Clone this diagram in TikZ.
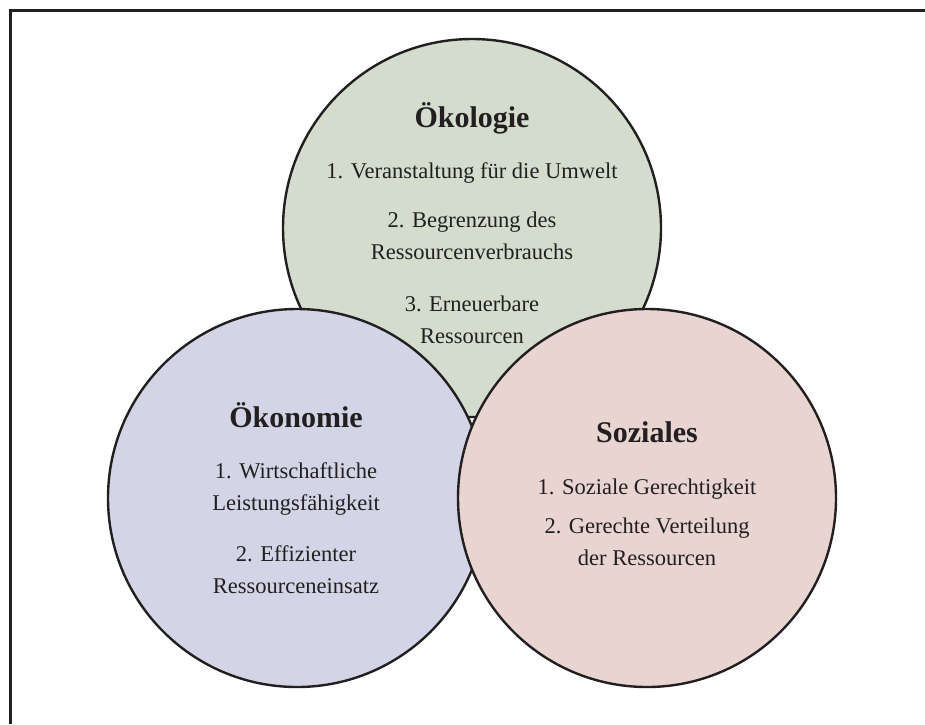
\documentclass[tikz,border=0pt]{standalone}
\usepackage{fontspec}
\setmainfont{Liberation Serif}
\usepackage{tikz}
\usetikzlibrary{positioning}
\definecolor{oekogreen}{RGB}{211,220,205}
\definecolor{oekoblue}{RGB}{211,212,230}
\definecolor{sozpink}{RGB}{232,212,208}
\definecolor{inkdark}{RGB}{35,31,32}

\begin{document}
\begin{tikzpicture}[x=1pt, y=-1pt,
    pillar/.style={circle, draw=inkdark, line width=2.4pt, minimum size=378pt, inner sep=0pt},
    headline/.style={anchor=base, text=inkdark, font=\fontsize{30}{34}\selectfont\bfseries},
    item/.style={anchor=base, align=center, text=inkdark, font=\fontsize{22.5}{31.5}\selectfont}]
    \useasboundingbox (0,0) rectangle (925,724);
    % frame, only top and left edge inside the page
    \draw[inkdark, line width=3pt] (925,10.5) -- (10.5,10.5) -- (10.5,724);
    % Oekologie (multi-line items sit on their last baseline)
    \node[pillar, fill=oekogreen] (oekologie) at (472,228) {};
    \node[headline] (oekologieTitle) at (472,127) {Ökologie};
    \node[item] (oekologieA) at (472,178) {1. Veranstaltung für die Umwelt};
    \node[item] (oekologieB) at (472,259) {2. Begrenzung des\\Ressourcenverbrauchs};
    \node[item] (oekologieC) at (472,343) {3. Erneuerbare\\Ressourcen};
    % Oekonomie
    \node[pillar, fill=oekoblue] (oekonomie) at (297,498) {};
    \node[headline] (oekonomieTitle) at (296,427) {Ökonomie};
    \node[item] (oekonomieA) at (296,510) {1. Wirtschaftliche\\Leistungsfähigkeit};
    \node[item] (oekonomieB) at (296,593) {2. Effizienter\\Ressourceneinsatz};
    % Soziales
    \node[pillar, fill=sozpink] (soziales) at (647,498) {};
    \node[headline] (sozialesTitle) at (647,442) {Soziales};
    \node[item] (sozialesA) at (647,494) {1. Soziale Gerechtigkeit};
    \node[item] (sozialesB) at (647,565) {2. Gerechte Verteilung\\der Ressourcen};
\end{tikzpicture}
\end{document}
